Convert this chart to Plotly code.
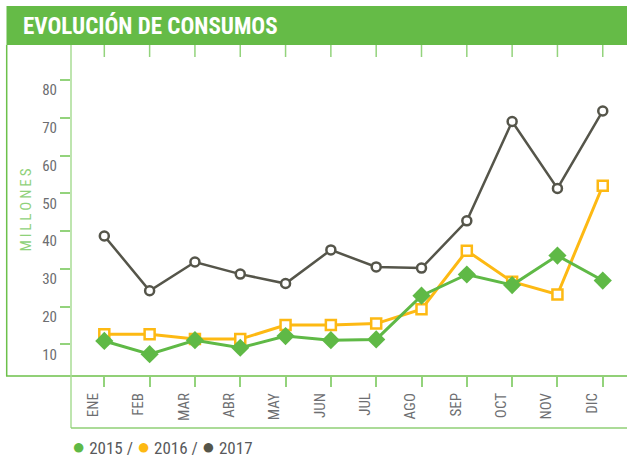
import plotly.graph_objects as go

months = ["ENE", "FEB", "MAR", "ABR", "MAY", "JUN", "JUL", "AGO", "SEP", "OCT", "NOV", "DIC"]
y2015 = [10.9, 7.4, 11.1, 9.1, 12.2, 11.1, 11.3, 22.9, 28.5, 25.7, 33.5, 26.9]
y2016 = [12.7, 12.7, 11.4, 11.4, 15.1, 15.1, 15.5, 19.3, 34.8, 26.6, 23.2, 52.0]
y2017 = [38.7, 24.2, 31.8, 28.6, 26.1, 35.0, 30.5, 30.2, 42.7, 69.0, 51.3, 71.8]
ytick_vals = [10, 20, 30, 40, 50, 60, 70, 80]
series_names = ["2015", "2016", "2017"]
title_text = "EVOLUCIÓN DE CONSUMOS"
ylabel_text = "MILLONES"

W, H = 627, 459
L, R, T, B = 71, 627, 45, 376  # plot area in pixels

def px(x):
    return (x - L) / (R - L)

def py(y):
    return (B - y) / (B - T)

C2015 = "#5fb946"
C2016 = "#fdb913"
C2017 = "#55554a"
GREEN = "#65bb47"
LIGHT = "#a9dc94"
TICK = "#93d37c"
GRAY = "#6d6e71"
FONT = "Roboto Condensed, Liberation Sans Narrow, Open Sans, sans-serif"

xs = list(range(len(months)))

fig = go.Figure()
fig.add_trace(go.Scatter(
    x=xs, y=y2017, mode="lines+markers", name=series_names[2],
    line=dict(color=C2017, width=2.5),
    marker=dict(symbol="circle", size=9, color="white", line=dict(color=C2017, width=2.5)),
))
fig.add_trace(go.Scatter(
    x=xs, y=y2016, mode="lines+markers", name=series_names[1],
    line=dict(color=C2016, width=3),
    marker=dict(symbol="square", size=10, color="white", line=dict(color=C2016, width=2.5)),
))
fig.add_trace(go.Scatter(
    x=xs, y=y2015, mode="lines+markers", name=series_names[0],
    line=dict(color=C2015, width=3),
    marker=dict(symbol="diamond", size=14, color=C2015, line=dict(width=0)),
))

shapes = []
# title bar
shapes.append(dict(type="rect", xref="paper", yref="paper", x0=px(6.5), x1=px(628), y0=py(45), y1=py(6),
                   fillcolor=GREEN, line=dict(width=0), layer="above"))
# left outer vertical line
shapes.append(dict(type="line", xref="paper", yref="paper", x0=px(6.7), x1=px(6.7), y0=py(376), y1=py(45),
                   line=dict(color="#6cc04a", width=1.5)))
# axis horizontal line
shapes.append(dict(type="line", xref="paper", yref="paper", x0=px(6), x1=px(628), y0=py(376), y1=py(376),
                   line=dict(color="#6cc04a", width=1.5)))
# light vertical at plot left
shapes.append(dict(type="line", xref="paper", yref="paper", x0=px(71), x1=px(71), y0=py(428), y1=py(45),
                   line=dict(color=LIGHT, width=1.5)))
# bottom light line
shapes.append(dict(type="line", xref="paper", yref="paper", x0=px(71), x1=px(628), y0=py(428), y1=py(428),
                   line=dict(color="#8fcf76", width=1.5)))
# top ticks
for i in xs:
    shapes.append(dict(type="line", xref="x", yref="paper", x0=i, x1=i, y0=py(57), y1=py(45),
                       line=dict(color=TICK, width=1.5)))

dot = '<span style="color:{};font-size:22px">●</span>'
annotations = [
    dict(text=title_text, xref="paper", yref="paper", x=px(21), y=py(26), xanchor="left", yanchor="middle",
         showarrow=False, font=dict(family=FONT, size=23, color="white", weight="bold")),
    dict(text="\u2009".join(ylabel_text), xref="paper", yref="paper", x=px(25.5), y=py(210), textangle=-90,
         xanchor="center", yanchor="middle", showarrow=False,
         font=dict(family=FONT, size=15, color="#8fd17a")),
    dict(text=(f'{dot.format(C2015)} {series_names[0]} / '
               f'{dot.format(C2016)} {series_names[1]} / '
               f'{dot.format(C2017)} {series_names[2]}'),
         xref="paper", yref="paper", x=px(70), y=py(447), xanchor="left", yanchor="middle",
         showarrow=False, font=dict(family=FONT, size=17, color="#58595b")),
]

fig.update_layout(
    width=W, height=H,
    margin=dict(l=L, r=W - R, t=T, b=H - B, pad=0),
    paper_bgcolor="white", plot_bgcolor="white",
    showlegend=False,
    shapes=shapes, annotations=annotations,
    xaxis=dict(
        range=[-0.735, 11.535], tickmode="array", tickvals=xs, ticktext=months,
        tickangle=-90, ticks="outside", ticklen=10, tickwidth=1.5, tickcolor=TICK,
        showgrid=False, zeroline=False, showline=False,
        tickfont=dict(family=FONT, size=15, color=GRAY), ticklabelshift=-11,
    ),
    yaxis=dict(
        range=[1.62, 89.27], tickmode="array", tickvals=ytick_vals,
        ticks="outside", ticklen=10, tickwidth=1.5, tickcolor=TICK,
        showgrid=False, zeroline=False, showline=False,
        tickfont=dict(family=FONT, size=15, color=GRAY), ticklabelshift=10,
    ),
)

fig.write_html("out.html", config={"displayModeBar": False},
               post_script="document.body.style.margin='0';")
